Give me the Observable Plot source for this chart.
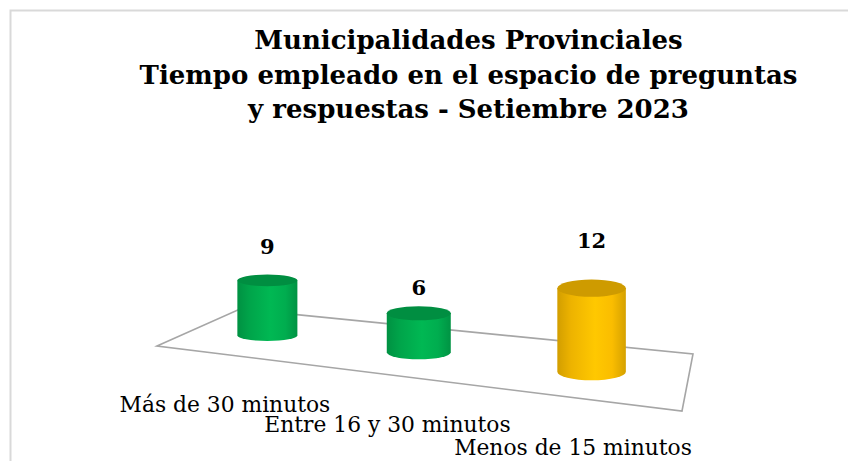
<!DOCTYPE html>
<html><head><meta charset="utf-8">
<script src="https://cdn.jsdelivr.net/npm/d3@7"></script>
<script src="https://cdn.jsdelivr.net/npm/@observablehq/plot@0.6"></script>
<style>body{margin:0;background:#fff;}</style>
</head><body><div id="chart"></div>
<script>
// ---- data ----
const categories = ["Más de 30 minutos", "Entre 16 y 30 minutos", "Menos de 15 minutos"];
const values = [9, 6, 12];
const titleLines = ["Municipalidades Provinciales", "Tiempo empleado en el espacio de preguntas", "y respuestas - Setiembre 2023"];
const palette = ["#00b050", "#00b050", "#ffc000"];

const data = categories.map((c, i) => ({category: c, value: values[i]}));

// ---- 3D frame (layout) ----
const layout = {
  floor: {fl: [157, 346], fr: [682, 411], bl: [240, 309], br: [693, 354]},
  k: 1.22,          // perspective foreshortening along the category axis
  radius: 32,       // cylinder radius at mid depth
  ryRatio: 0.22,    // ellipse flattening
  labelFactor: 1.48, // value label height relative to bar height
  catGap: 57
};
const warp = t => t / (layout.k + (1 - layout.k) * t);
const depth = t => (layout.k + (1 - layout.k) * 0.5) / (layout.k + (1 - layout.k) * t);
function P(u, s) {
  const {fl, fr, bl, br} = layout.floor;
  const fx = fl[0] + (fr[0] - fl[0]) * u, fy = fl[1] + (fr[1] - fl[1]) * u;
  const bx = bl[0] + (br[0] - bl[0]) * u, by = bl[1] + (br[1] - bl[1]) * u;
  return [fx + (bx - fx) * s, fy + (by - fy) * s];
}
function geom(values, i) {
  const t = values.x[i];
  const z = depth(t);
  const [cx, cy] = P(warp(t), 0.5);
  const rx = layout.radius * z, ry = rx * layout.ryRatio * z * z;
  const h = values.y[i] * z;
  const [fx, fy] = P(warp(t), 0);
  return {cx, cy, rx, ry, z, h, top: cy - h, fx, fy};
}

function floorRender() {
  const {fl, fr, bl, br} = layout.floor;
  const g = d3.create("svg:g");
  g.append("path")
    .attr("d", `M${fl}L${bl}L${br}L${fr}Z`)
    .attr("fill", "none").attr("stroke", "#a6a6a6").attr("stroke-width", 1.6);
  return g.node();
}

function cylRender(index, scales, values) {
  const g = d3.create("svg:g");
  const defs = g.append("defs");
  for (const i of index) {
    const {cx, cy, rx, ry, top} = geom(values, i);
    const base = d3.color(values.fill[i]);
    const id = "cylgrad" + i;
    const lg = defs.append("linearGradient").attr("id", id)
      .attr("x1", 0).attr("x2", 1).attr("y1", 0).attr("y2", 0);
    [[0, base.darker(0.55)], [0.2, base.darker(0.2)], [0.55, base.brighter(0.12)], [0.8, base.darker(0.05)], [1, base.darker(0.5)]]
      .forEach(([o, c]) => lg.append("stop").attr("offset", o).attr("stop-color", c));
    g.append("path")
      .attr("d", `M${cx - rx},${top}L${cx - rx},${cy}A${rx},${ry} 0 0 0 ${cx + rx},${cy}L${cx + rx},${top}Z`)
      .attr("fill", `url(#${id})`);
    g.append("ellipse").attr("cx", cx).attr("cy", top).attr("rx", rx).attr("ry", ry)
      .attr("fill", base.darker(0.6));
  }
  return g.node();
}

function valueRender(index, scales, values) {
  const g = d3.create("svg:g");
  for (const i of index) {
    const {cx, cy, h} = geom(values, i);
    g.append("text").attr("x", cx).attr("y", cy - h * layout.labelFactor)
      .attr("text-anchor", "middle").attr("font-weight", "bold").attr("font-size", 21)
      .attr("fill", "#000").text(values.text[i]);
  }
  return g.node();
}

function catRender(index, scales, values) {
  const g = d3.create("svg:g");
  for (const i of index) {
    const {fx, fy} = geom(values, i);
    g.append("text").attr("x", fx - 6).attr("y", fy + layout.catGap)
      .attr("text-anchor", "middle").attr("font-size", 21.8)
      .attr("fill", "#000").text(values.text[i]);
  }
  return g.node();
}

const chart = Plot.plot({
  width: 848, height: 461,
  marginTop: 0, marginRight: 0, marginBottom: 0, marginLeft: 0,
  style: {fontFamily: "DejaVu Serif", background: "#fff"},
  x: {type: "point", domain: categories, range: [0, 1], padding: 0.5, round: false, axis: null},
  y: {type: "linear", domain: [0, d3.max(values)], range: [0, 78], axis: null},
  color: {type: "ordinal", domain: categories, range: palette},
  marks: [
    Plot.frame({stroke: "#d9d9d9", strokeWidth: 2, insetLeft: 10, insetTop: 10, insetRight: -20, insetBottom: -20}),
    Plot.text([titleLines.join("\n")], {text: d => d, frameAnchor: "top", dx: 44, dy: 24, fontSize: 26, fontWeight: "bold", lineHeight: 1.33}),
    Plot.frame({render: floorRender}),
    Plot.dot(data, {x: "category", y: "value", fill: "category", render: cylRender}),
    Plot.text(data, {x: "category", y: "value", text: "value", render: valueRender}),
    Plot.text(data, {x: "category", y: "value", text: "category", render: catRender})
  ]
});
document.getElementById("chart").appendChild(chart);
</script>
</body></html>
